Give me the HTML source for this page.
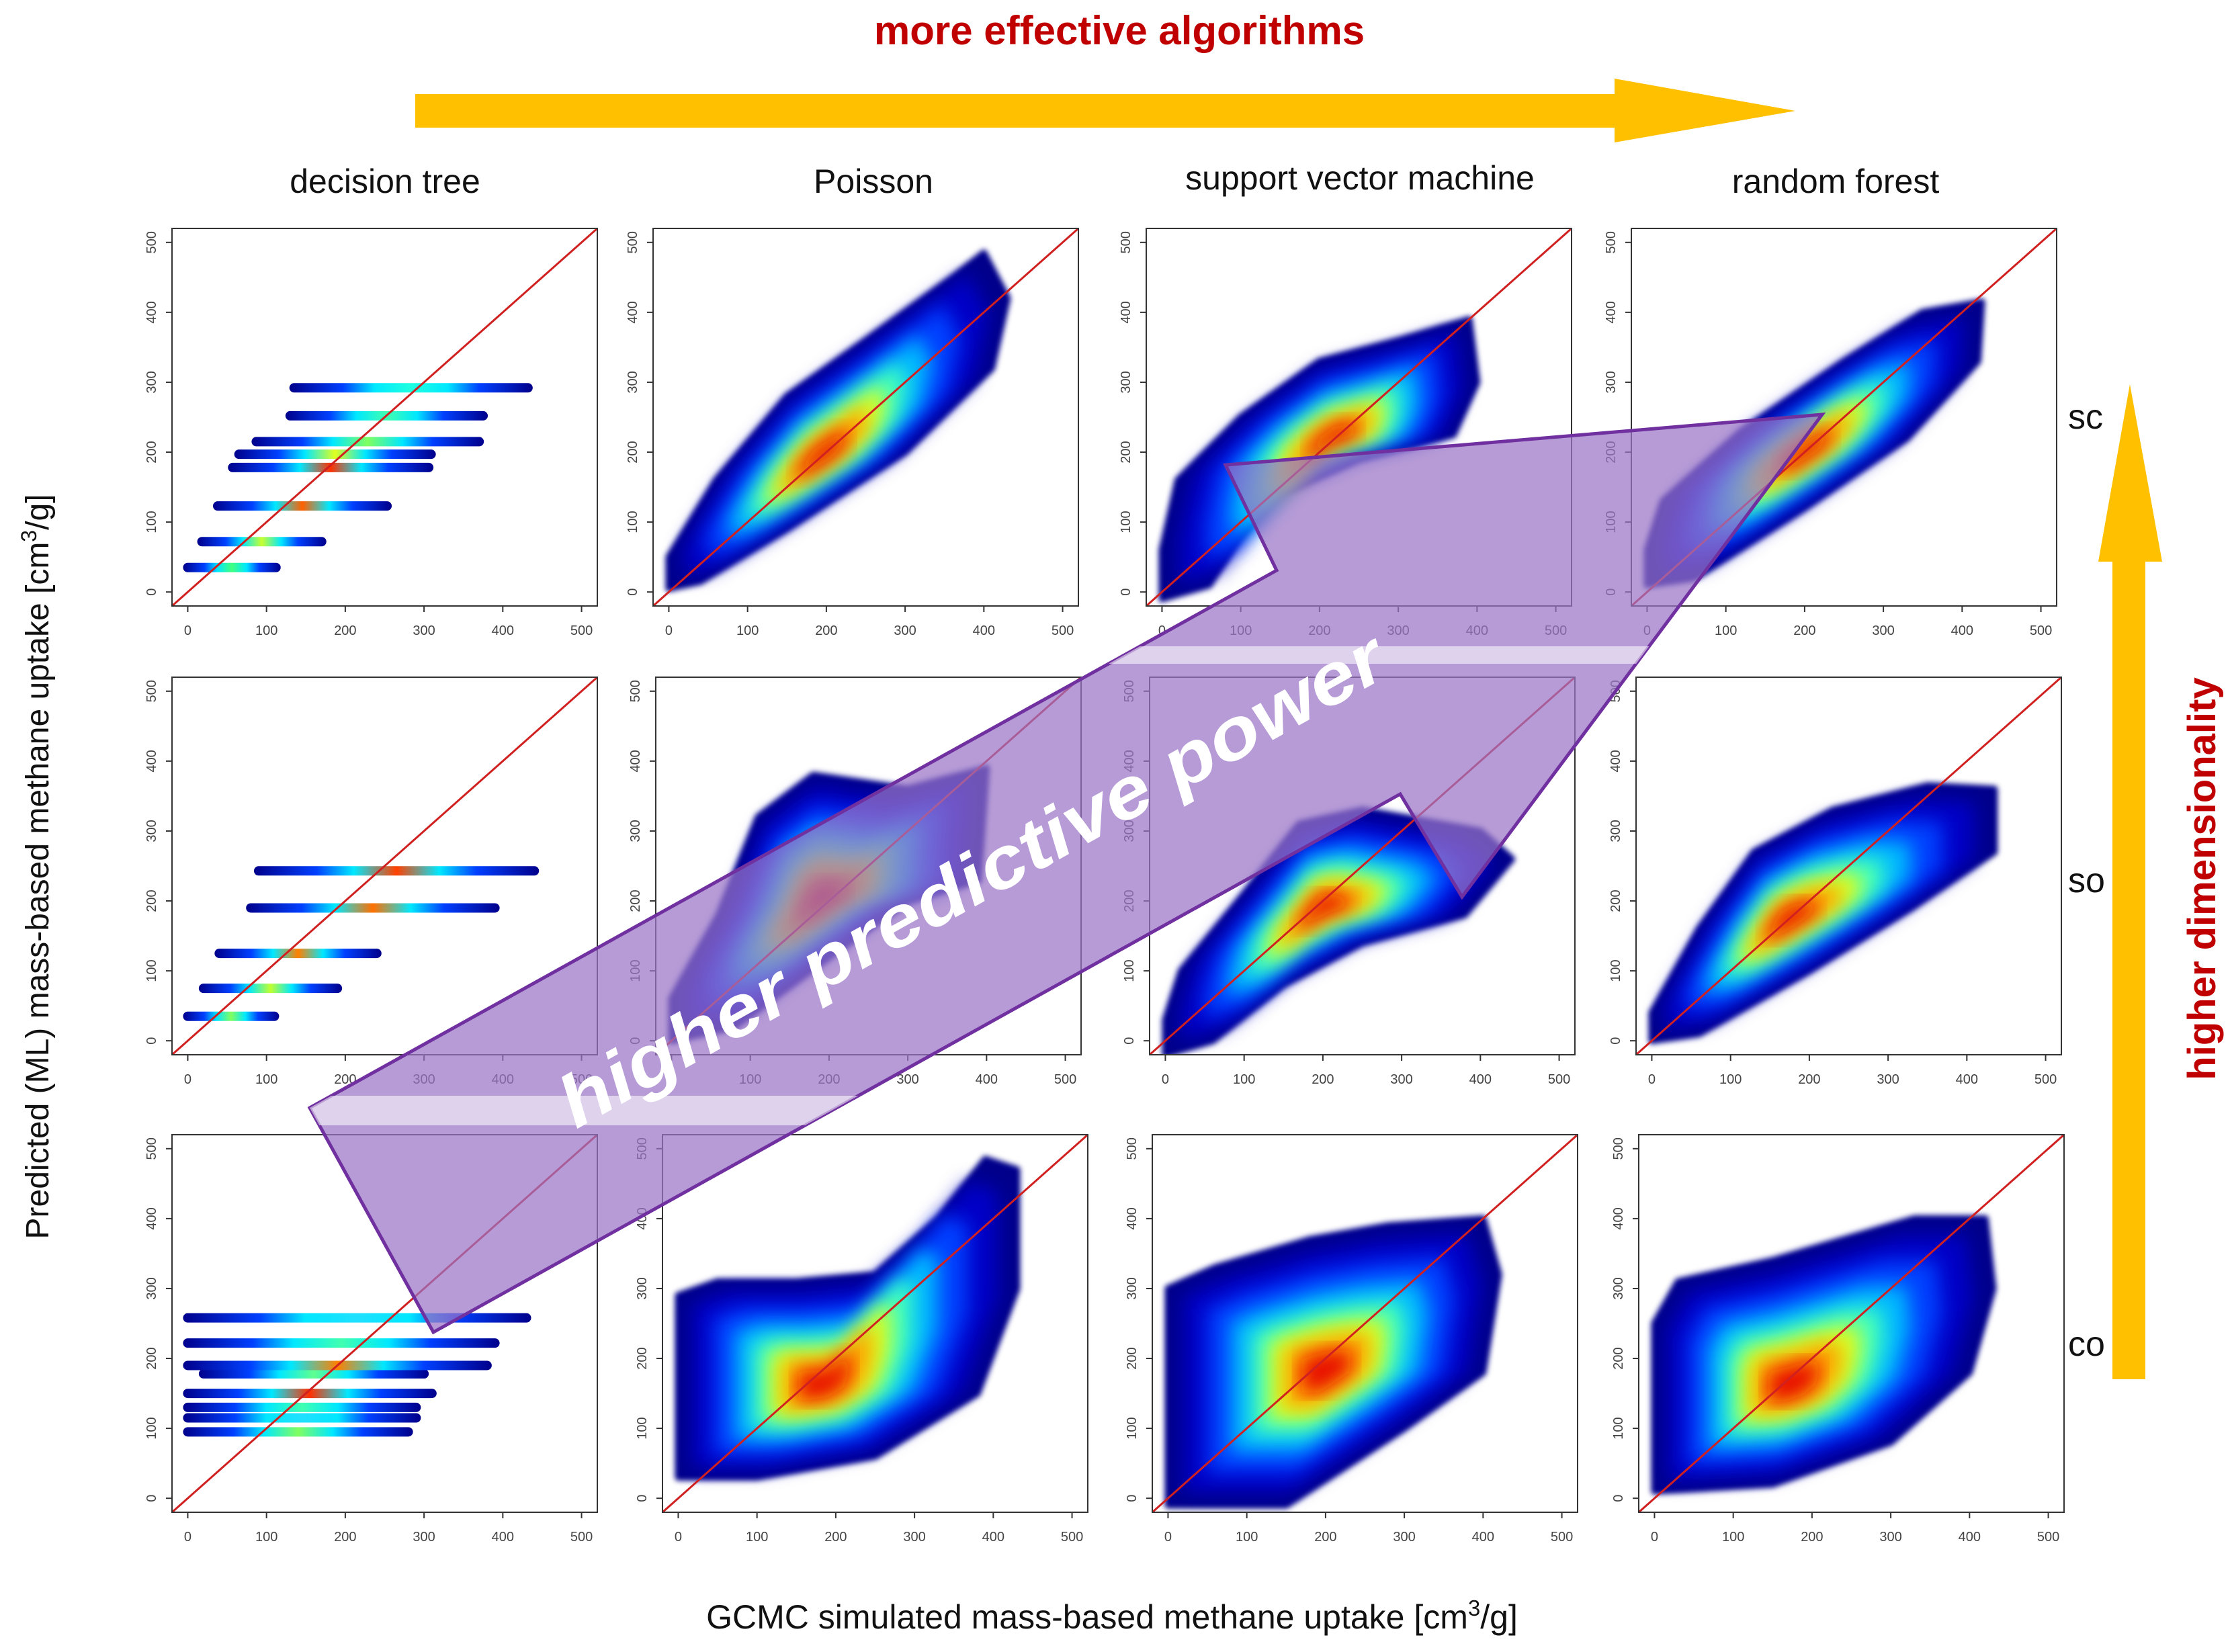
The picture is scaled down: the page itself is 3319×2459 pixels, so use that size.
<!DOCTYPE html>
<html>
<head>
<meta charset="utf-8">
<style>
html,body{margin:0;padding:0;background:#fff;}
body{width:3319px;height:2459px;overflow:hidden;position:relative;font-family:"Liberation Sans",sans-serif;}
svg{position:absolute;left:0;top:0;}
</style>
</head>
<body>
<svg id="fig" width="3319" height="2459" viewBox="0 0 3319 2459" xmlns="http://www.w3.org/2000/svg">
<defs>
<filter id="blur" x="-20%" y="-20%" width="140%" height="140%"><feGaussianBlur stdDeviation="14"/></filter>
<filter id="soft" x="-10%" y="-10%" width="120%" height="120%"><feGaussianBlur stdDeviation="4"/></filter>
<clipPath id="bandClip"><polygon points="461,1649 645,1983 2084,1182 2176,1335 2712,617 1824,692 1900,849"/></clipPath>
</defs>
<g id="panels"></g>
<g id="overlay"></g>
<g id="labels"></g>
</svg>
<script>
// ---- data ----
const rowNames = ["sc", "so", "co"];
const colNames = ["decision tree", "Poisson", "support vector machine", "random forest"];
const tickValues = [0, 100, 200, 300, 400, 500];
const tickLabels = ["0", "100", "200", "300", "400", "500"];
// decision tree bars: [y, x0, x1, peakColour]
const dtBarsSc = [[35,0,112,"#40ff80"],[72,18,170,"#c8ff30"],[123,38,253,"#ff6000"],[178,57,306,"#ff3000"],[197,65,309,"#e0ff20"],[215,87,370,"#80ff60"],[252,130,375,"#40ffb0"],[292,135,432,"#20ffe0"]];
const dtBarsSo = [[35,0,110,"#80ff60"],[75,20,190,"#c0ff30"],[125,40,240,"#ff8000"],[190,80,390,"#ff7000"],[243,90,440,"#ff4000"]];
const dtBarsCo = [[95,0,280,"#80ff60"],[115,0,290,"#20e0ff"],[130,0,290,"#40ffb0"],[150,0,310,"#ff3000"],[178,20,300,"#60ff90"],[190,0,380,"#ff8000"],[222,0,390,"#40ffb0"],[258,0,430,"#20e0ff"]];
// scatter clouds: hull outlines in data units and density cores
const hullPoissonSc = [[0,5],[40,15],[150,90],[300,200],[410,320],[430,420],[400,485],[360,450],[250,360],[150,280],[60,160],[0,50]];
const corePoissonSc = [190,190];
const hullSvmSc = [[0,-10],[60,10],[100,80],[150,140],[250,190],[370,225],[400,300],[390,390],[300,360],[200,330],[100,250],[20,160],[0,60]];
const coreSvmSc = [220,220];
const hullRfSc = [[0,10],[60,20],[200,120],[330,220],[420,330],[425,415],[350,400],[250,330],[120,230],[20,130],[0,60]];
const coreRfSc = [200,200];
const hullPoissonSo = [[0,0],[80,20],[200,120],[300,200],[390,230],[400,390],[300,360],[180,380],[110,320],[60,180],[0,60]];
const corePoissonSo = [190,200];
const hullSvmSo = [[0,-20],[60,0],[150,80],[250,140],[380,180],[440,260],[400,300],[250,330],[170,310],[100,210],[20,100],[0,30]];
const coreSvmSo = [200,190];
const hullRfSo = [[0,0],[60,10],[200,100],[330,190],[435,270],[435,360],[350,365],[230,330],[130,270],[60,160],[0,40]];
const coreRfSo = [170,170];
const hullPoissonCo = [[0,30],[100,30],[250,60],[380,150],[430,300],[430,470],[390,485],[330,400],[250,320],[150,310],[50,310],[0,290]];
const corePoissonCo = [180,160];
const hullSvmCo = [[0,-10],[150,-10],[300,100],[400,180],[420,320],[400,400],[280,390],[180,370],[60,330],[0,300]];
const coreSvmCo = [200,180];
const hullRfCo = [[0,10],[150,20],[300,80],[400,180],[430,300],[420,400],[330,400],[150,340],[30,310],[0,250]];
const coreRfCo = [170,160];

// ---- layout ----
const NS = "http://www.w3.org/2000/svg";
const PW = 633, PH = 562, DMIN = -20, DMAX = 520;
const panelLefts = [[256,972,1706,2428],[256,976,1711,2435],[256,986,1715,2439]];
const panelTops = [340,1008,1689];
const dtByRow = [dtBarsSc, dtBarsSo, dtBarsCo];
const hulls = [[hullPoissonSc,hullSvmSc,hullRfSc],[hullPoissonSo,hullSvmSo,hullRfSo],[hullPoissonCo,hullSvmCo,hullRfCo]];
const cores = [[corePoissonSc,coreSvmSc,coreRfSc],[corePoissonSo,coreSvmSo,coreRfSo],[corePoissonCo,coreSvmCo,coreRfCo]];
const layers = [[1.0,"#00008b","soft"],[0.9,"#0000c8","blur"],[0.75,"#0040ff","blur"],[0.6,"#00b8ff","blur"],[0.47,"#40ffc0","blur"],[0.36,"#d8ff20","blur"],[0.26,"#ffa000","blur"],[0.15,"#e81000","blur"]];

function mk(tag, attrs, parent){const e=document.createElementNS(NS,tag);for(const k in attrs)e.setAttribute(k,attrs[k]);if(parent)parent.appendChild(e);return e;}

const panelsG = document.getElementById("panels");
let gid = 0;
for(let r=0;r<3;r++){
  for(let c=0;c<4;c++){
    const L = panelLefts[r][c], T = panelTops[r];
    const sx = v => L + (v-DMIN)/(DMAX-DMIN)*PW;
    const sy = v => T + PH - (v-DMIN)/(DMAX-DMIN)*PH;
    const g = mk("g",{},panelsG);
    
    
    const cid = "clip"+r+"_"+c;
    const cp = mk("clipPath",{id:cid},g);
    mk("rect",{x:L,y:T,width:PW,height:PH},cp);
    const plot = mk("g",{"clip-path":"url(#"+cid+")"},g);
    if(c===0){
      dtByRow[r].forEach((b,i)=>{
        gid++;
        const gr = mk("linearGradient",{id:"dtg"+gid,x1:"0",x2:"1",y1:"0",y2:"0"},g);
        [[0,"#00008b"],[0.22,"#0040ff"],[0.35,"#00e8ff"],[0.5,b[3]],[0.65,"#00e8ff"],[0.78,"#0040ff"],[1,"#00008b"]].forEach(s=>mk("stop",{offset:s[0],"stop-color":s[1]},gr));
        const bar = mk("rect",{x:sx(b[1])-7,y:sy(b[0])-7,width:sx(b[2])-sx(b[1])+14,height:14,rx:7,fill:"url(#dtg"+gid+")"},plot);
        
        
      });
    } else {
      const hull = hulls[r][c-1], core = cores[r][c-1];
      layers.forEach(ly=>{
        const f = ly[0];
        const pts = hull.map(p=>{const x=core[0]+(p[0]-core[0])*f, y=core[1]+(p[1]-core[1])*f;return sx(x).toFixed(1)+","+sy(y).toFixed(1);}).join(" ");
        const poly = mk("polygon",{points:pts,fill:ly[1],"stroke-linejoin":"round",filter:"url(#"+ly[2]+")"},plot);
        if(ly[2]==="soft"){poly.setAttribute("stroke",ly[1]);poly.setAttribute("stroke-width","10");}
        
        
      });
    }
    const diag = mk("line",{x1:sx(DMIN),y1:sy(DMIN),x2:sx(DMAX),y2:sy(DMAX),stroke:"#d02020","stroke-width":3},plot);
    
    
    const frame = mk("rect",{x:L,y:T,width:PW,height:PH,fill:"none",stroke:"#333","stroke-width":2},g);
    
    
    tickValues.forEach((v,i)=>{
      mk("line",{x1:sx(v),y1:T+PH,x2:sx(v),y2:T+PH+9,stroke:"#333","stroke-width":2},g);
      const xt = mk("text",{x:sx(v),y:T+PH+43,"text-anchor":"middle","font-size":20,fill:"#444"},g);
      xt.textContent = tickLabels[i];
      
      
      mk("line",{x1:L-9,y1:sy(v),x2:L,y2:sy(v),stroke:"#333","stroke-width":2},g);
      const yt = mk("text",{x:L-24,y:sy(v),"text-anchor":"middle","font-size":20,fill:"#444",transform:"rotate(-90 "+(L-24)+" "+sy(v)+")"},g);
      yt.textContent = tickLabels[i];
      
      
    });
  }
}

// ---- overlay ----
const ov = document.getElementById("overlay");
const band = mk("polygon",{points:"461,1649 645,1983 2084,1182 2176,1335 2712,617 1824,692 1900,849",fill:"#9a74c6","fill-opacity":"0.72",stroke:"#7030a0","stroke-width":5,"stroke-linejoin":"miter"},ov);


const strips = mk("g",{"clip-path":"url(#bandClip)"},ov);
const s1 = mk("rect",{x:1600,y:962,width:900,height:26,fill:"#ffffff","fill-opacity":"0.55"},strips);


const s2 = mk("rect",{x:440,y:1631,width:900,height:44,fill:"#ffffff","fill-opacity":"0.55"},strips);


const hp = mk("text",{x:0,y:0,"text-anchor":"middle","font-size":108,"font-weight":"bold","font-style":"italic",fill:"#ffffff",textLength:1390,lengthAdjust:"spacingAndGlyphs",transform:"translate(1464,1342) rotate(-29.2)"},ov);
hp.textContent = "higher predictive power";



// ---- labels & arrows ----
const lb = document.getElementById("labels");
const topArrow = mk("polygon",{points:"618,140 2403,140 2403,117 2672,165 2403,212 2403,190 618,190",fill:"#ffc000"},lb);


const rightArrow = mk("polygon",{points:"3144,2053 3144,836 3123,836 3170,572 3218,836 3193,836 3193,2053",fill:"#ffc000"},lb);


function txt(name, s, x, y, size, extra){
  const a = Object.assign({x:x,y:y,"font-size":size,fill:"#111"}, extra||{});
  const t = mk("text",a,lb);
  t.textContent = s;
  
  
  return t;
}
txt("top-arrow-title","more effective algorithms",1666,66,60,{"text-anchor":"middle","font-weight":"bold",fill:"#c00000"});
txt("col-title-decision-tree","decision tree",573,287,50,{"text-anchor":"middle"});
txt("col-title-poisson","Poisson",1300,287,50,{"text-anchor":"middle"});
txt("col-title-svm","support vector machine",2024,282,50,{"text-anchor":"middle"});
txt("col-title-random-forest","random forest",2732,287,50,{"text-anchor":"middle"});
txt("row-label-sc","sc",3078,638,52,{});
txt("row-label-so","so",3078,1328,52,{});
txt("row-label-co","co",3078,2018,52,{});
txt("right-arrow-title","higher dimensionality",3297,1308,58,{"text-anchor":"middle","font-weight":"bold",fill:"#c00000",transform:"rotate(-90 3297 1308)"});
const yt = txt("y-axis-title","",72,1290,48,{"text-anchor":"middle",transform:"rotate(-90 72 1290)"});
yt.innerHTML = 'Predicted (ML) mass-based methane uptake [cm<tspan dy="-18" font-size="32">3</tspan><tspan dy="18">/g]</tspan>';
const xt = txt("x-axis-title","",1655,2424,50,{"text-anchor":"middle"});
xt.innerHTML = 'GCMC simulated mass-based methane uptake [cm<tspan dy="-19" font-size="33">3</tspan><tspan dy="19">/g]</tspan>';
</script>
</body>
</html>
